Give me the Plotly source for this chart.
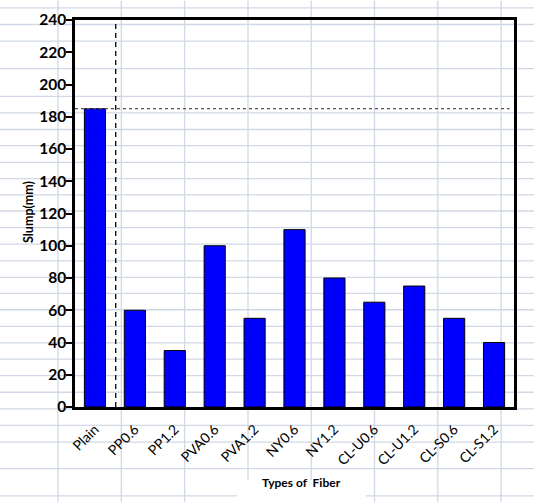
import plotly.graph_objects as go

categories = ["Plain", "PP0.6", "PP1.2", "PVA0.6", "PVA1.2", "NY0.6", "NY1.2",
              "CL-U0.6", "CL-U1.2", "CL-S0.6", "CL-S1.2"]
slump = [185, 60, 35, 100, 55, 110, 80, 65, 75, 55, 40]
y_ticks = [0, 20, 40, 60, 80, 100, 120, 140, 160, 180, 200, 220, 240]
reference_level = 185

W, H = 534, 503
L, R, T, B = 75, 20, 19.5, 95.5
pw, ph = W - L - R, H - T - B

# spreadsheet background grid (pixel positions)
row_px = [7.3, 24, 40.7, 68.3, 96, 112.7, 129.3, 145.5, 162.3, 178.5, 194.8, 211,
          227.7, 244.3, 261, 277.5, 293.5, 310, 326.7, 343.3, 359.5, 376, 392.7,
          409.3, 426, 442.7, 469.3, 496.7]
col_px = [58, 121.3, 184.6, 248, 311.2, 374.5, 437.8, 501.1]

def px2x(px):
    return (px - L) / pw

def py2y(py):
    return (H - B - py) / ph

shapes = []
gc = "#d0d7e5"
for py in row_px:
    shapes.append(dict(type="line", xref="paper", yref="paper", layer="below",
                       x0=px2x(0), x1=px2x(W), y0=py2y(py), y1=py2y(py),
                       line=dict(color=gc, width=1.3)))
for px in col_px:
    shapes.append(dict(type="line", xref="paper", yref="paper", layer="below",
                       x0=px2x(px), x1=px2x(px), y0=py2y(0), y1=py2y(H),
                       line=dict(color=gc, width=1.3)))
# white box behind x-axis title
shapes.append(dict(type="rect", xref="paper", yref="paper", layer="below",
                   x0=px2x(237), x1=px2x(366), y0=py2y(503), y1=py2y(481),
                   fillcolor="white", line=dict(width=0)))

# reference dashed lines
shapes.append(dict(type="line", xref="paper", yref="y", x0=0, x1=0.99,
                   y0=reference_level, y1=reference_level,
                   line=dict(color="#555555", width=1.3, dash="3px,3px")))
shapes.append(dict(type="line", xref="x", yref="paper", x0=0.52, x1=0.52,
                   y0=0, y1=1, line=dict(color="black", width=1.3, dash="5px,4px")))

fig = go.Figure(go.Bar(
    x=categories, y=slump,
    marker=dict(color="#0000ff", line=dict(color="black", width=1)),
    width=0.53,
))

fig.update_layout(
    width=W, height=H,
    margin=dict(l=L, r=R, t=T, b=B, autoexpand=False),
    paper_bgcolor="white",
    plot_bgcolor="rgba(0,0,0,0)",
    showlegend=False,
    shapes=shapes,
    xaxis=dict(
        range=[-0.5, 10.5], showgrid=False, showline=True, mirror=True,
        linecolor="black", linewidth=2.5, ticks="", tickangle=-45,
        automargin=False, ticklabelstandoff=6,
        tickfont=dict(family="Lato", size=14, color="black"),
    ),
    yaxis=dict(
        range=[0, 240], tickvals=y_ticks, showgrid=False, showline=True,
        mirror=True, linecolor="black", linewidth=2.5, ticks="outside",
        ticklen=6, tickwidth=2, tickcolor="black", zeroline=False,
        automargin=False, ticklabelstandoff=-3,
        tickfont=dict(family="Lato", size=15.5, color="black", weight="bold"),
    ),
    annotations=[
        dict(text="Types of  Fiber", xref="paper", yref="paper",
             x=px2x(301), y=py2y(493), showarrow=False,
             font=dict(family="Lato", size=12, color="black", weight="bold")),
        dict(text="Slump(mm)", xref="paper", yref="paper", textangle=-90,
             x=px2x(28), y=py2y(212), xanchor="center", yanchor="middle",
             showarrow=False,
             font=dict(family="Lato", size=12.5, color="black", weight="bold")),
    ],
)

fig.write_html("out.html", config={"displayModeBar": False},
               post_script="document.body.style.margin='0';document.body.style.overflow='hidden';")
